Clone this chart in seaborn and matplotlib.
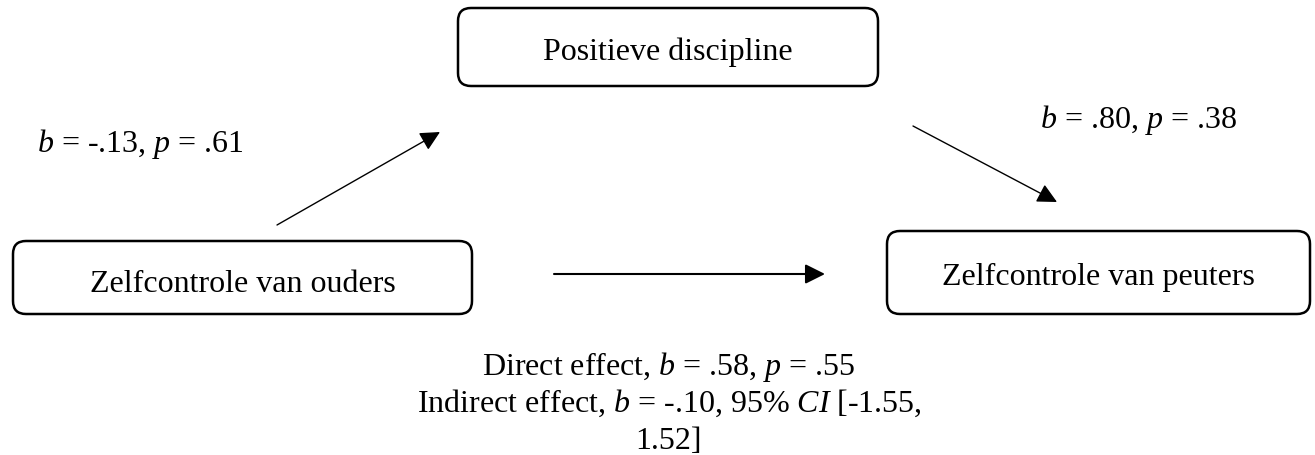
import matplotlib
matplotlib.use("Agg")
import matplotlib.pyplot as plt
from matplotlib.patches import FancyBboxPatch
import seaborn as sns

# node labels of the mediation model
node_labels = ["Zelfcontrole van ouders", "Positieve discipline", "Zelfcontrole van peuters"]

# path coefficients
path_a = "$b$ = -.13, $p$ = .61"
path_b = "$b$ = .80, $p$ = .38"
effect_lines = ["Direct effect, $b$ = .58, $p$ = .55",
                "Indirect effect, $b$ = -.10, 95% $CI$ [-1.55,",
                "1.52]"]

# layout in pixels (x0, y0, x1, y1) and label baselines
node_boxes = [(13, 242, 472, 315), (458, 9, 878, 87), (887, 232, 1310, 315)]
label_baselines = [292, 60, 285]
arrows = [((277, 226), (440, 133)), ((913, 127), (1057, 203)), ((554, 275), (825, 275))]

sns.set_theme(style="white")
plt.rcParams["font.family"] = ["Liberation Serif", "DejaVu Serif"]
plt.rcParams["mathtext.fontset"] = "custom"
plt.rcParams["mathtext.rm"] = "Liberation Serif"
plt.rcParams["mathtext.it"] = "Liberation Serif:italic"

fig = plt.figure(figsize=(13.15, 4.56), dpi=100)
ax = fig.add_axes([0, 0, 1, 1])
ax.set_xlim(0, 1315)
ax.set_ylim(456, 0)
ax.axis("off")

fs = 23

for label, (x0, y0, x1, y1), yb in zip(node_labels, node_boxes, label_baselines):
    box = FancyBboxPatch((x0, y0), x1 - x0, y1 - y0,
                         boxstyle="round,pad=0,rounding_size=13",
                         fc="white", ec="black", lw=1.8)
    ax.add_patch(box)
    ax.text((x0 + x1) / 2, yb, label, ha="center", va="baseline",
            fontsize=fs, color="black")

for (start, end), lw in zip(arrows, [1.0, 1.0, 1.5]):
    ax.annotate("", xy=end, xytext=start,
                arrowprops=dict(arrowstyle="-|>,head_length=0.4,head_width=0.2",
                                mutation_scale=30, color="black", lw=lw,
                                shrinkA=0, shrinkB=0))

ax.text(37, 152, path_a, ha="left", va="baseline", fontsize=fs, color="black")
ax.text(1040, 128, path_b, ha="left", va="baseline", fontsize=fs, color="black")

for i, line in enumerate(effect_lines):
    ax.text(669, 375 + i * 37, line, ha="center", va="baseline",
            fontsize=fs, color="black")

fig.savefig("out.png", dpi=100)
